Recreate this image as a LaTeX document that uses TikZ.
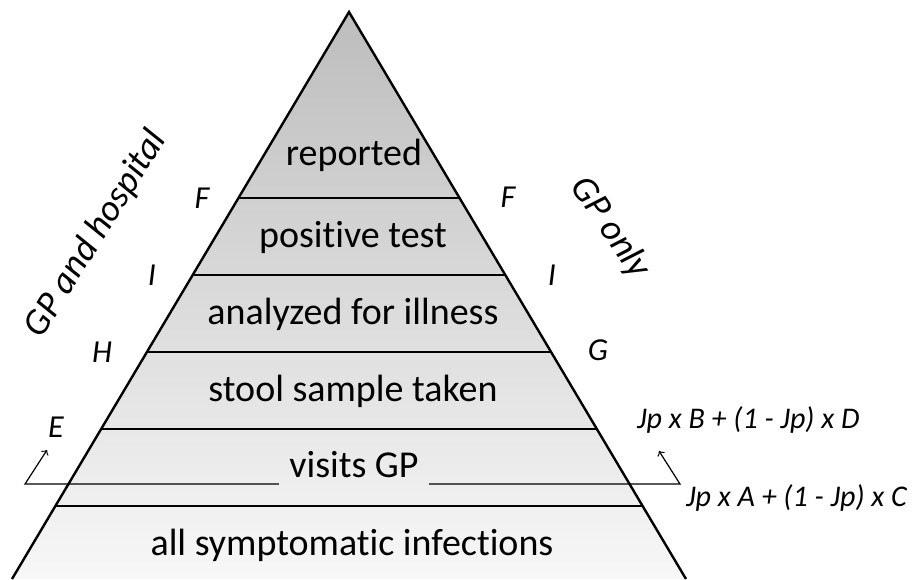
\documentclass[tikz,border=0pt]{standalone}
\usepackage{fontspec}
\setmainfont{Carlito}[Ligatures=NoCommon]
\usetikzlibrary{positioning}

\tikzset{
  band/.style={font=\fontsize{19}{22}\selectfont, anchor=base},
  level/.style={font=\fontsize{16}{19}\selectfont\itshape},
  formula/.style={font=\fontsize{15}{18}\selectfont\itshape, anchor=base west},
  route/.style={font=\fontsize{18.5}{22}\selectfont\itshape},
}

\begin{document}
\begin{tikzpicture}[x=0.5pt, y=-0.5pt]
\useasboundingbox (0,0) rectangle (919,579);
\shade[top color=black!26, bottom color=black!3] (349,12) -- (12,579) -- (686,579) -- cycle;
\draw[line width=1.2pt] (12,579) -- (349,12) -- (686,579);
\foreach \y in {198,275,352,429,506}
  \draw[line width=1pt] ({349-0.5944*(\y-12)},\y) -- ({349+0.5944*(\y-12)},\y);

\node[band] (reported) at (354,165) {reported};
\node[band] (positive) at (353,247) {positive test};
\node[band] (analyzed) at (353,324) {analyzed for illness};
\node[band] (stool) at (353,401) {stool sample taken};
\node[band, inner xsep=5pt] (visits) at (354,477) {visits GP};
\node[band] (allsymp) at (352,555) {all symptomatic infections};

% labels along the edges
\node[level] (fl) at (202,198) {F};
\node[level] (il) at (152,275) {I};
\node[level] (hl) at (102,352) {H};
\node[level] (el) at (56,427) {E};
\node[level] (fr) at (508,197) {F};
\node[level] (ir) at (552,275) {I};
\node[level] (gr) at (598,350) {G};
\node[formula] (jpb) at (630,428) {Jp x B + (1 - Jp) x D};
\node[formula] (jpa) at (679,506) {Jp x A + (1 - Jp) x C};

\node[route, rotate=58] (hosp) at (96,234) {GP and hospital};
\node[route, rotate=-56] (gponly) at (610,228) {GP only};

\coordinate (cornerl) at (25,484);
\coordinate (tipl) at (47,450);
\coordinate (cornerr) at (680,484);
\coordinate (tipr) at (659,451);
\draw[->, line width=0.6pt] (visits.west |- cornerl) -- (cornerl) -- (tipl);
\draw[->, line width=0.6pt] (visits.east |- cornerr) -- (cornerr) -- (tipr);
\end{tikzpicture}
\end{document}
